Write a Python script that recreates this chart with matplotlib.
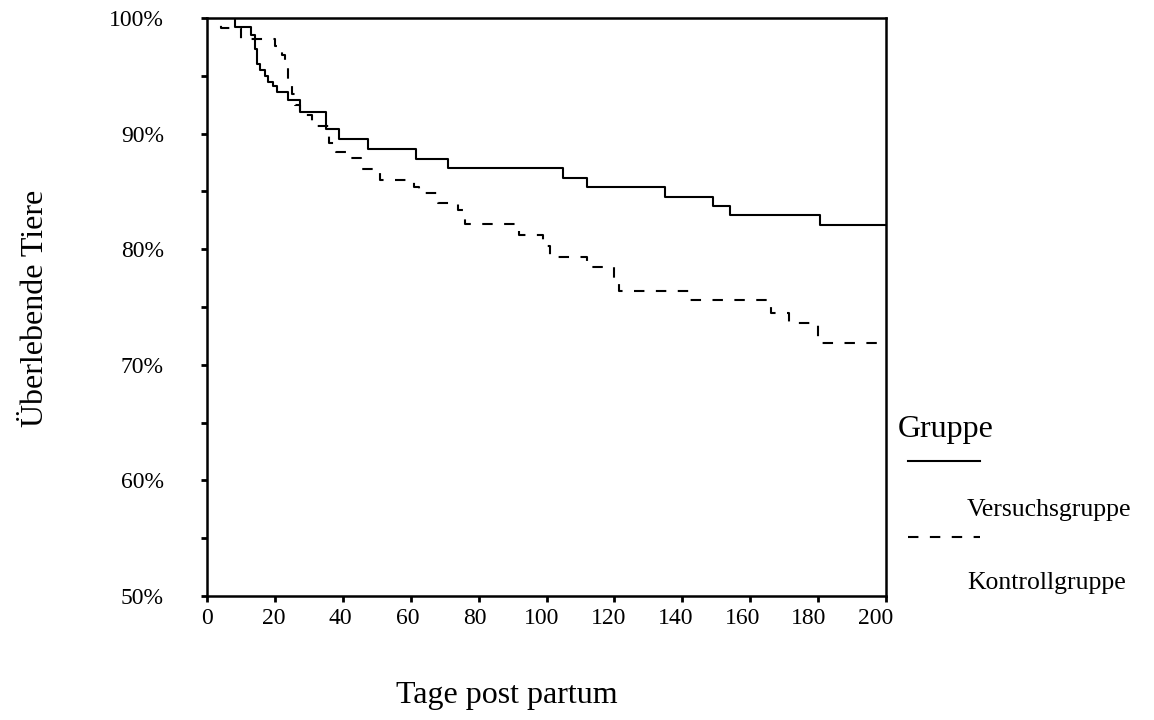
import matplotlib
matplotlib.use("Agg")
import matplotlib.pyplot as plt
from matplotlib.lines import Line2D
from matplotlib.transforms import ScaledTranslation

plt.rcParams['font.family'] = ['Liberation Serif', 'DejaVu Serif']

# Kaplan-Meier step data (day, survival %)
versuch_days = [0, 8.3, 13, 14, 14.6, 15.5, 17, 18, 19.5, 20.5, 24, 27.5, 35, 39, 47.5,
                61.5, 71, 105, 112, 135, 149, 154, 180.5, 200]
versuch_surv = [100, 99.25, 98.5, 97.3, 96.0, 95.5, 95.0, 94.5, 94.1, 93.6, 92.9, 91.9, 90.4,
                89.5, 88.7, 87.8, 87.0, 86.2, 85.4, 84.5, 83.7, 83.0, 82.1, 82.1]

kontroll_days = [0, 4, 10, 20, 22, 23, 24, 25, 26, 27.5, 31, 36, 38, 41, 45.5, 51, 61, 62.5,
                 68, 74, 76, 92, 99, 101, 112, 120, 121.5, 142, 166, 171.5, 180, 200]
kontroll_surv = [100, 99.1, 98.2, 97.6, 96.8, 95.8, 94.6, 93.4, 92.5, 91.6, 90.7, 89.2, 88.4,
                 87.9, 86.9, 86.0, 85.4, 84.9, 84.0, 83.4, 82.2, 81.2, 80.3, 79.3, 78.5, 77.3,
                 76.4, 75.6, 74.5, 73.6, 71.9, 71.9]

x_ticks = [0, 20, 40, 60, 80, 100, 120, 140, 160, 180, 200]
y_ticks = [50, 60, 70, 80, 90, 100]
y_tick_labels = ["50%", "60%", "70%", "80%", "90%", "100%"]

fig = plt.figure(figsize=(11.54, 7.2), dpi=100)
ax = fig.add_axes([207/1154, 1-596/720, (886-207)/1154, (596-18)/720])

ax.step(versuch_days, versuch_surv, where='post', color='black', lw=1.5)
ax.step(kontroll_days, kontroll_surv, where='post', color='black', lw=1.5,
        linestyle=(0, (5, 5.5)))

ax.set_xlim(0, 200)
ax.set_ylim(50, 100)
ax.set_xticks(x_ticks)
ax.set_yticks(y_ticks)
ax.set_yticklabels(y_tick_labels)
ax.set_yticks([55, 65, 75, 85, 95], minor=True)
ax.tick_params(axis='both', which='both', direction='out', length=4, width=2,
               labelsize=17, colors='black')
ax.tick_params(axis='y', which='major', pad=27)
ax.tick_params(axis='x', which='major', pad=5)
for s in ax.spines.values():
    s.set_linewidth(1.8)
ax.set_facecolor('white')

# slight leftward drift of x tick labels as in the original
for lbl, v in zip(ax.get_xticklabels(), x_ticks):
    lbl.set_transform(lbl.get_transform() +
                      ScaledTranslation(-0.05 * v / 100, 0, fig.dpi_scale_trans))

fig.text(36/1154, 1-308/720, "Überlebende Tiere", rotation=90, fontsize=23,
         ha='center', va='center')
fig.text(507/1154, 1-696/720, "Tage post partum", fontsize=23, ha='center', va='center')

# Legend drawn manually
fig.text(898/1154, 1-430/720, "Gruppe", fontsize=23, ha='left', va='center')
fig.add_artist(Line2D([908/1154, 980/1154], [1-461/720, 1-461/720], color='black', lw=1.5,
                      transform=fig.transFigure))
fig.text(967/1154, 1-510/720, "Versuchsgruppe", fontsize=18.5, ha='left', va='center')
fig.add_artist(Line2D([908/1154, 980/1154], [1-537/720, 1-537/720], color='black', lw=1.5,
                      linestyle=(0, (5, 5.5)), transform=fig.transFigure))
fig.text(967/1154, 1-583/720, "Kontrollgruppe", fontsize=18.5, ha='left', va='center')

fig.savefig("out.png", dpi=100, facecolor='white')
